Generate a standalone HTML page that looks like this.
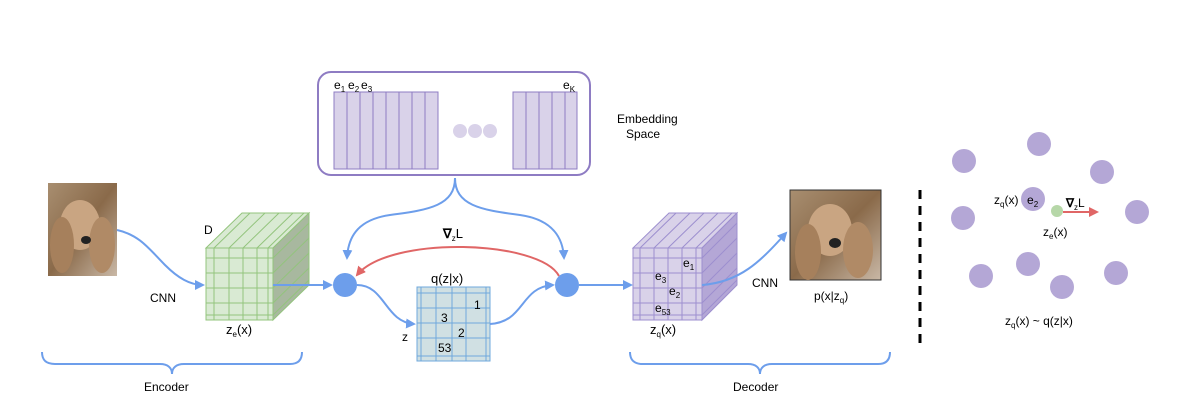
<!DOCTYPE html>
<html><head><style>body{margin:0;background:#fff}svg{display:block;font-family:"Liberation Sans",sans-serif}</style></head><body>
<svg width="1196" height="418" viewBox="0 0 1196 418" xmlns="http://www.w3.org/2000/svg">
<defs>
<marker id="ab" markerWidth="10" markerHeight="10" refX="8" refY="5" orient="auto" markerUnits="userSpaceOnUse"><path d="M0,0 L10,5 L0,10 z" fill="#6d9eeb"/></marker>
<marker id="ar" markerWidth="10" markerHeight="10" refX="8" refY="5" orient="auto" markerUnits="userSpaceOnUse"><path d="M0,0 L10,5 L0,10 z" fill="#e06666"/></marker>
<linearGradient id="dog" x1="0" y1="0" x2="1" y2="1"><stop offset="0" stop-color="#a88e70"/><stop offset="0.5" stop-color="#8a6a4a"/><stop offset="1" stop-color="#c9b8a6"/></linearGradient>
</defs>
<!-- dog 1 -->
<g>
<rect x="48" y="183" width="69" height="93" fill="url(#dog)"/>
<ellipse cx="80" cy="225" rx="20" ry="25" fill="#c9a582"/>
<ellipse cx="62" cy="245" rx="12" ry="28" fill="#a6805c"/>
<ellipse cx="102" cy="245" rx="13" ry="28" fill="#b08a66"/>
<ellipse cx="86" cy="240" rx="5" ry="4" fill="#222"/>
</g>
<!-- dog 2 -->
<g>
<rect x="790" y="190" width="91" height="90" fill="url(#dog)" stroke="#333" stroke-width="1"/>
<ellipse cx="830" cy="230" rx="22" ry="26" fill="#c9a582"/>
<ellipse cx="808" cy="252" rx="13" ry="28" fill="#a6805c"/>
<ellipse cx="858" cy="250" rx="15" ry="28" fill="#b08a66"/>
<ellipse cx="835" cy="243" rx="6" ry="5" fill="#222"/>
</g>
<!-- green cube -->
<g stroke="#93c47d" stroke-width="1">
<polygon points="206,248 242,213 309,213 273,248" fill="#d9ead3"/>
<polygon points="273,248 309,213 309,285 273,320" fill="#a8b89f"/>
<rect x="206" y="248" width="67" height="72" fill="#d9ead3"/>
<path d="M214,248V320M229,248V320M243,248V320M257,248V320M268,248V320M206,258H273M206,273H273M206,288H273M206,303H273M206,315H273" fill="none"/>
<path d="M214,248L250,213M229,248L265,213M243,248L279,213M257,248L293,213M268,248L304,213" fill="none"/>
<path d="M273,258L309,223M273,273L309,238M273,288L309,253M273,303L309,268M273,315L309,280" fill="none"/>
</g>
<text x="204" y="234" font-size="12">D</text>
<text x="226" y="334" font-size="13">z<tspan font-size="8" dy="3">e</tspan><tspan dy="-3">(x)</tspan></text>
<!-- purple cube -->
<g stroke="#9d8fcf" stroke-width="1">
<polygon points="633,248 669,213 737,213 702,248" fill="#d9d2e9"/>
<polygon points="702,248 737,213 737,285 702,320" fill="#b4a7d6"/>
<rect x="633" y="248" width="69" height="72" fill="#d9d2e9"/>
<path d="M640,248V320M654,248V320M668,248V320M682,248V320M696,248V320M633,258H702M633,273H702M633,288H702M633,303H702M633,315H702" fill="none"/>
<path d="M640,248L676,213M654,248L690,213M668,248L704,213M682,248L718,213M696,248L732,213" fill="none"/>
<path d="M702,258L737,223M702,273L737,238M702,288L737,253M702,303L737,268M702,315L737,280" fill="none"/>
</g>
<g font-size="12">
<text x="683" y="267">e<tspan font-size="8" dy="3">1</tspan></text>
<text x="655" y="280">e<tspan font-size="8" dy="3">3</tspan></text>
<text x="669" y="295">e<tspan font-size="8" dy="3">2</tspan></text>
<text x="655" y="312">e<tspan font-size="8" dy="3">53</tspan></text>
</g>
<text x="650" y="334" font-size="13">z<tspan font-size="8" dy="3">q</tspan><tspan dy="-3">(x)</tspan></text>
<!-- q grid -->
<g stroke="#6fa8dc" stroke-width="1">
<rect x="417" y="287" width="73" height="74" fill="#d0e0e3"/>
<path d="M421,287V361M436,287V361M452,287V361M466,287V361M486,287V361M417,293H490M417,308H490M417,323H490M417,338H490M417,356H490" fill="none"/>
</g>
<g font-size="12"><text x="474" y="309">1</text><text x="441" y="322">3</text><text x="458" y="337">2</text><text x="438" y="352">53</text></g>
<text x="431" y="283" font-size="13">q(z|x)</text>
<text x="402" y="341" font-size="12">z</text>
<!-- embedding box -->
<rect x="318" y="72" width="272" height="103" rx="13" fill="#fff" stroke="#8e7cc3" stroke-width="2"/>
<g stroke="#8e7cc3" stroke-width="1" fill="#d9d2e9">
<rect x="334" y="92" width="104" height="77"/>
<path d="M347,92V169M360,92V169M373,92V169M386,92V169M399,92V169M412,92V169M425,92V169" fill="none"/>
<rect x="513" y="92" width="64" height="77"/>
<path d="M526,92V169M539,92V169M552,92V169M565,92V169" fill="none"/>
</g>
<g fill="#d9d2e9"><circle cx="460" cy="131" r="7"/><circle cx="475" cy="131" r="7"/><circle cx="490" cy="131" r="7"/></g>
<g font-size="12"><text x="334" y="89">e<tspan font-size="8" dy="3">1</tspan></text><text x="348" y="89">e<tspan font-size="8" dy="3">2</tspan></text><text x="361" y="89">e<tspan font-size="8" dy="3">3</tspan></text><text x="563" y="89">e<tspan font-size="8" dy="3">K</tspan></text></g>
<text x="617" y="123" font-size="12">Embedding</text>
<text x="626" y="138" font-size="12">Space</text>
<!-- connectors -->
<g fill="none" stroke="#6d9eeb" stroke-width="2">
<path d="M117,230 C140,235 150,250 165,265 C178,278 190,285 203,285" marker-end="url(#ab)"/>
<path d="M273,285 H331" marker-end="url(#ab)"/>
<path d="M455,178 C455,205 430,210 390,215 C355,220 348,240 347,258" marker-end="url(#ab)"/>
<path d="M455,178 C455,205 480,210 520,215 C555,220 563,240 564,258" marker-end="url(#ab)"/>
<path d="M357,285 C385,285 385,322 414,324" marker-end="url(#ab)"/>
<path d="M490,324 C525,322 520,287 553,285" marker-end="url(#ab)"/>
<path d="M579,285 H631" marker-end="url(#ab)"/>
<path d="M702,285 C740,282 760,262 786,233" marker-end="url(#ab)"/>
<path d="M42,352 C42,360 46,364 55,364 H160 C168,364 172,368 172,374 C172,368 176,364 184,364 H290 C298,364 302,360 302,352"/>
<path d="M630,352 C630,360 634,364 643,364 H748 C756,364 760,368 760,374 C760,368 764,364 772,364 H878 C886,364 890,360 890,352"/>
</g>
<path d="M559,276 C540,240 390,235 357,275" fill="none" stroke="#e06666" stroke-width="2" marker-end="url(#ar)"/>
<circle cx="345" cy="285" r="12" fill="#6d9eeb"/>
<circle cx="567" cy="285" r="12" fill="#6d9eeb"/>
<text x="443" y="238" font-size="13"><tspan font-weight="bold">∇</tspan><tspan font-size="8" dy="3">z</tspan><tspan dy="-3">L</tspan></text>
<text x="150" y="302" font-size="12">CNN</text>
<text x="752" y="287" font-size="12">CNN</text>
<text x="814" y="300" font-size="12">p(x|z<tspan font-size="8" dy="3">q</tspan><tspan dy="-3">)</tspan></text>
<text x="144" y="391" font-size="12">Encoder</text>
<text x="733" y="391" font-size="12">Decoder</text>
<!-- divider -->
<line x1="920" y1="190" x2="920" y2="345" stroke="#000" stroke-width="3" stroke-dasharray="9,7"/>
<!-- right cluster -->
<g fill="#b4a7d6">
<circle cx="964" cy="161" r="12"/><circle cx="1039" cy="144" r="12"/><circle cx="1102" cy="172" r="12"/>
<circle cx="963" cy="218" r="12"/><circle cx="1033" cy="199" r="12"/><circle cx="1137" cy="212" r="12"/>
<circle cx="981" cy="276" r="12"/><circle cx="1028" cy="264" r="12"/><circle cx="1062" cy="287" r="12"/><circle cx="1116" cy="273" r="12"/>
</g>
<circle cx="1057" cy="211" r="6" fill="#b6d7a8"/>
<path d="M1063,212 H1097" stroke="#e06666" stroke-width="2" fill="none" marker-end="url(#ar)"/>
<g font-size="12">
<text x="994" y="204">z<tspan font-size="8" dy="3">q</tspan><tspan dy="-3">(x)</tspan></text>
<text x="1027" y="204">e<tspan font-size="8" dy="3">2</tspan></text>
<text x="1066" y="207"><tspan font-weight="bold">∇</tspan><tspan font-size="8" dy="3">z</tspan><tspan dy="-3">L</tspan></text>
<text x="1043" y="236">z<tspan font-size="8" dy="3">e</tspan><tspan dy="-3">(x)</tspan></text>
<text x="1005" y="325">z<tspan font-size="8" dy="3">q</tspan><tspan dy="-3">(x) ~ q(z|x)</tspan></text>
</g>
</svg>
</body></html>
